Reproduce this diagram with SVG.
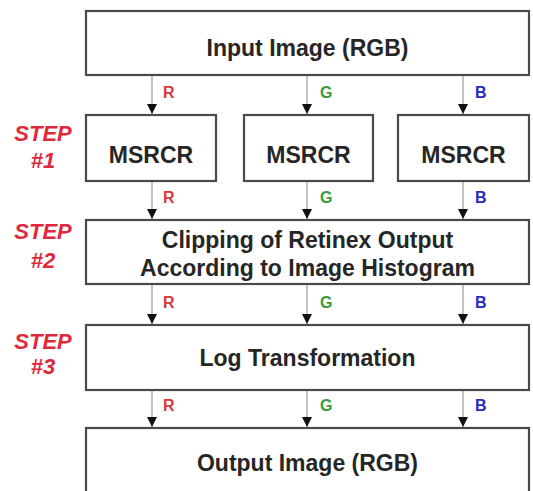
<svg xmlns="http://www.w3.org/2000/svg" width="533" height="491" viewBox="0 0 533 491">
<style>
.box{fill:#fff;stroke:#4a4a4a;stroke-width:2.2}
.t{font-family:"Liberation Sans",Arial,sans-serif;font-weight:bold;font-size:23px;fill:#262626;text-anchor:middle}
.step{font-family:"Liberation Sans",Arial,sans-serif;font-weight:bold;font-style:italic;font-size:22px;fill:#e0283c;text-anchor:middle}
.ch{font-family:"Liberation Sans",Arial,sans-serif;font-weight:bold;font-size:16px}
.r{fill:#d63a3a}.g{fill:#3a9a3a}.b{fill:#2a2ac0}
.ln{stroke:#9a9a9a;stroke-width:1.2;fill:none;marker-end:url(#ah)}
</style>
<defs>
<marker id="ah" markerUnits="userSpaceOnUse" markerWidth="11" markerHeight="11" refX="10" refY="5.5" orient="auto" viewBox="0 0 11 11">
<path d="M0,0.5 L10,5.5 L0,10.5 Z" fill="#111"/>
</marker>
</defs>
<rect width="533" height="491" fill="#fff"/>
<g id="connectors">
<path class="ln" d="M152,76 V114"/><path class="ln" d="M307,76 V114"/><path class="ln" d="M463,76 V114"/>
<path class="ln" d="M152,182 V219"/><path class="ln" d="M307,182 V219"/><path class="ln" d="M463,182 V219"/>
<path class="ln" d="M152,285 V324"/><path class="ln" d="M307,285 V324"/><path class="ln" d="M463,285 V324"/>
<path class="ln" d="M152,391 V427"/><path class="ln" d="M307,391 V427"/><path class="ln" d="M463,391 V427"/>
<text class="ch r" x="163" y="98">R</text><text class="ch g" x="320" y="98">G</text><text class="ch b" x="475" y="98">B</text>
<text class="ch r" x="163" y="203">R</text><text class="ch g" x="320" y="203">G</text><text class="ch b" x="475" y="203">B</text>
<text class="ch r" x="163" y="308">R</text><text class="ch g" x="320" y="308">G</text><text class="ch b" x="475" y="308">B</text>
<text class="ch r" x="163" y="411">R</text><text class="ch g" x="320" y="411">G</text><text class="ch b" x="475" y="411">B</text>
</g>
<g id="input"><rect class="box" x="86" y="11" width="443" height="64"/><text class="t" x="307.5" y="56">Input Image (RGB)</text></g>
<g id="msrcr-r"><rect class="box" x="86" y="115" width="130" height="66"/><text class="t" x="151" y="163">MSRCR</text></g>
<g id="msrcr-g"><rect class="box" x="244" y="115" width="129" height="66"/><text class="t" x="308.5" y="163">MSRCR</text></g>
<g id="msrcr-b"><rect class="box" x="398" y="115" width="131" height="66"/><text class="t" x="463.5" y="163">MSRCR</text></g>
<g id="clipping"><rect class="box" x="86" y="220" width="443" height="64"/><text class="t" x="307.5" y="248">Clipping of Retinex Output</text><text class="t" x="307.5" y="276">According to Image Histogram</text></g>
<g id="log"><rect class="box" x="86" y="325" width="443" height="65"/><text class="t" x="307.5" y="366">Log Transformation</text></g>
<g id="output"><rect class="box" x="86" y="428" width="443" height="80"/><text class="t" x="307.5" y="471">Output Image (RGB)</text></g>
<g id="step1"><text class="step" x="43" y="141">STEP</text><text class="step" x="43" y="168">#1</text></g>
<g id="step2"><text class="step" x="43" y="239">STEP</text><text class="step" x="43" y="268">#2</text></g>
<g id="step3"><text class="step" x="43" y="349">STEP</text><text class="step" x="43" y="374">#3</text></g>
</svg>
